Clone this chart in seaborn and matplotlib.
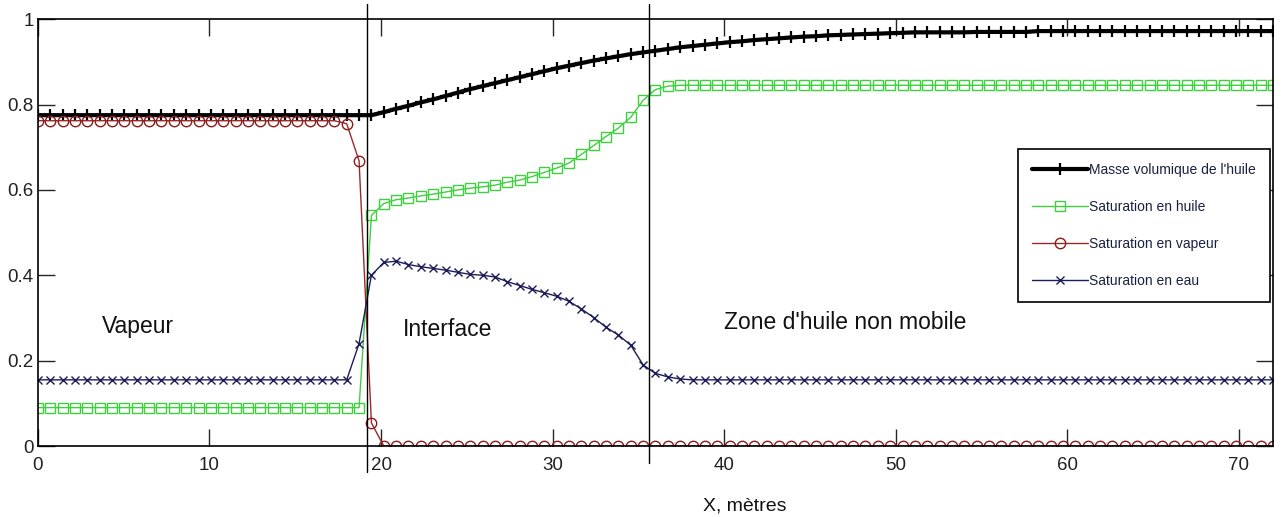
# profils de saturation / masse volumique le long de X
import numpy as np
import pandas as pd
import matplotlib
matplotlib.use('Agg')
import matplotlib.pyplot as plt
import seaborn as sns

# maillage (pas ~0.72 m lu sur l'espacement des marqueurs)
x_m = np.linspace(0, 72, 101)

masse_huile = ([0.775] * 28 +
               [0.782, 0.79, 0.797, 0.805, 0.812, 0.82, 0.828, 0.836, 0.843, 0.85,
                0.857, 0.864, 0.871, 0.878, 0.885, 0.891, 0.897, 0.903, 0.908, 0.913,
                0.918, 0.922, 0.926, 0.93, 0.934, 0.937, 0.94, 0.943, 0.946, 0.948,
                0.951, 0.953, 0.955, 0.957, 0.959, 0.96, 0.962, 0.963, 0.964, 0.965,
                0.966, 0.967, 0.968] +
               [0.969] * 5 + [0.970] * 5 + [0.972] * 20)

sat_huile = ([0.09] * 27 +
             [0.54, 0.568, 0.577, 0.581, 0.586, 0.59, 0.595, 0.6, 0.604, 0.607,
              0.611, 0.618, 0.623, 0.631, 0.641, 0.651, 0.663, 0.683, 0.704, 0.725,
              0.745, 0.77, 0.81, 0.835, 0.843] +
             [0.845] * 49)

sat_vapeur = [0.762] * 25 + [0.755, 0.668, 0.054] + [0.0] * 73

sat_eau = ([0.155] * 26 +
           [0.24, 0.40, 0.43, 0.433, 0.425, 0.42, 0.416, 0.412, 0.407, 0.402,
            0.4, 0.396, 0.385, 0.376, 0.367, 0.359, 0.351, 0.339, 0.321, 0.301,
            0.278, 0.26, 0.236, 0.19, 0.17, 0.162, 0.157] +
           [0.155] * 48)

fronts_x = [19.2, 35.6]
zones = ["Vapeur", "Interface", "Zone d'huile non mobile"]
zones_x = [3.7, 21.3, 40.0]
zones_y = [0.28, 0.272, 0.29]

sns.set_style('ticks')
plt.rcParams['font.family'] = ['Liberation Sans', 'DejaVu Sans']

fig = plt.figure(figsize=(12.82, 5.17), dpi=100)
ax = fig.add_axes([0.0296, 0.1373, 0.9634, 0.8257])

# Plot the four profiles
sns.lineplot(x=x_m, y=masse_huile, ax=ax, color='black', linewidth=3,
             linestyle='-', marker='+', markersize=9, markeredgewidth=1.6,
             markeredgecolor='black',
             label="Masse volumique de l'huile", sort=False, estimator=None)
sns.lineplot(x=x_m, y=sat_huile, ax=ax, color='#3fcf3f', linewidth=1,
             linestyle='-', marker='s', markersize=7.5, markerfacecolor='none',
             markeredgecolor='#3fcf3f', markeredgewidth=1,
             label='Saturation en huile', sort=False, estimator=None)
sns.lineplot(x=x_m, y=sat_vapeur, ax=ax, color='#9a2a2a', linewidth=1,
             linestyle='-', marker='o', markersize=7.5, markerfacecolor='none',
             markeredgecolor='#8b1a1a', markeredgewidth=1,
             label='Saturation en vapeur', sort=False, estimator=None)
sns.lineplot(x=x_m, y=sat_eau, ax=ax, color='#1c1c5a', linewidth=1,
             linestyle='-', marker='x', markersize=6, markeredgewidth=1,
             markeredgecolor='#1c1c5a',
             label='Saturation en eau', sort=False, estimator=None)

# front lines
ax.axvline(fronts_x[0], ymin=-0.06, ymax=1.035, color='black', linewidth=1, clip_on=False)
ax.axvline(fronts_x[1], ymin=-0.04, ymax=1.035, color='black', linewidth=1, clip_on=False)

for name, zx, zy in zip(zones, zones_x, zones_y):
    ax.text(zx, zy, name, fontsize=16.5, va='center', ha='left', color='#111111')

ax.set_xlim(0, 72)
ax.set_ylim(0, 1)
ax.set_xticks([0, 10, 20, 30, 40, 50, 60, 70])
ax.set_yticks([0, 0.2, 0.4, 0.6, 0.8, 1])
ax.set_yticklabels(['0', '0.2', '0.4', '0.6', '0.8', '1'])
ax.tick_params(direction='in', length=12, width=1, top=True, right=True,
               labelsize=13.5, labelcolor='#222222')
ax.tick_params(axis='x', pad=8)
ax.tick_params(axis='y', pad=3)
for s in ax.spines.values():
    s.set_color('black')
    s.set_linewidth(1.2)

ax.set_xlabel('X, mètres', fontsize=14, color='#111111')
ax.xaxis.set_label_coords(0.572, -0.12)
ax.set_ylabel('')

leg = ax.legend(loc='upper right', bbox_to_anchor=(0.9975, 0.695), borderaxespad=0,
                fontsize=10, handlelength=4.0, handletextpad=0.1,
                labelspacing=1.65, fancybox=False, framealpha=1,
                edgecolor='black', borderpad=1.0)
leg.get_frame().set_linewidth(1.2)
for t in leg.get_texts():
    t.set_color('#1a2040')

fig.savefig('out.png', dpi=100)
